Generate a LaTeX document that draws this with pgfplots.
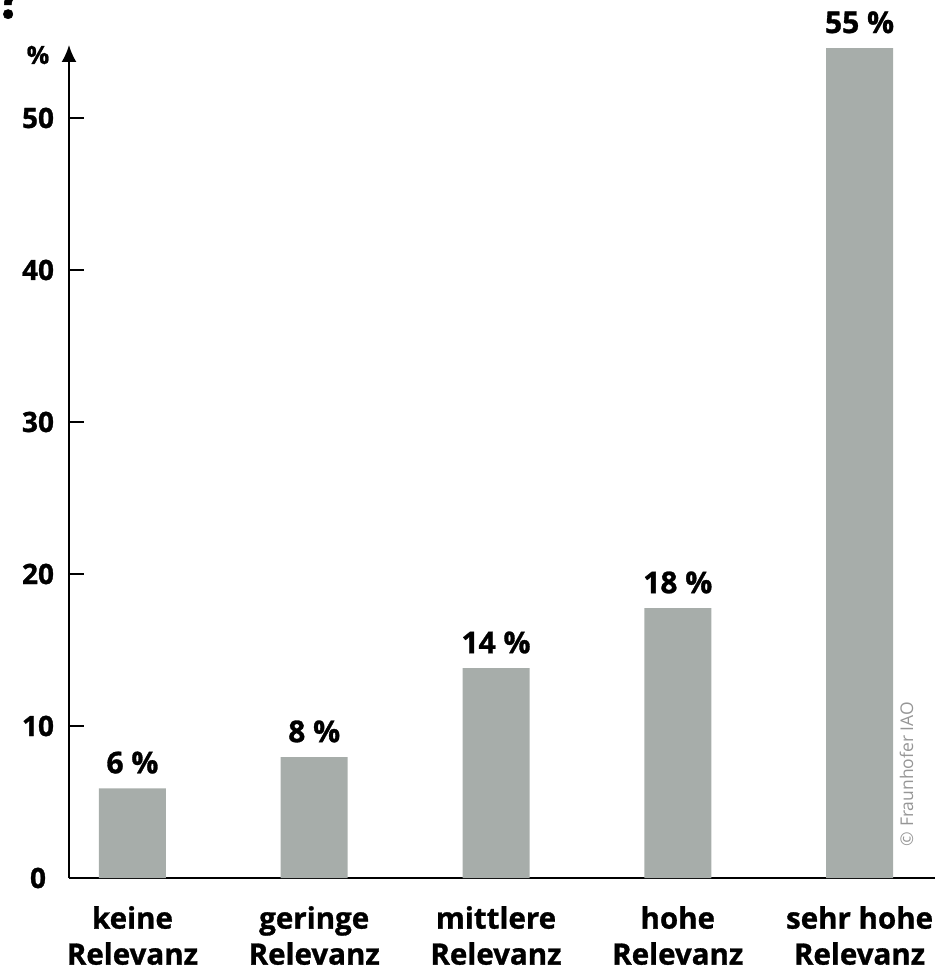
\documentclass[border=0pt]{standalone}
\usepackage{pgfplots}
\pgfplotsset{compat=1.18}
\usepackage{fontspec}
\setmainfont{Open Sans}[BoldFeatures={FakeBold=1}]
\usetikzlibrary{arrows.meta}
\definecolor{bargray}{RGB}{167,173,170}
\definecolor{copygray}{RGB}{150,150,150}
\begin{document}
\begin{tikzpicture}[x=1pt,y=1pt]
\begin{axis}[
  name=ax, at={(0,0)}, anchor=south west,
  scale only axis, width=866pt, height=833pt,
  xmin=-0.349, xmax=4.415, ymin=0, ymax=54.8,
  axis x line*=bottom, axis y line*=left,
  axis line style={line width=2pt},
  y axis line style={-{Latex[length=17pt,width=15pt]}},
  x axis line style={-},
  xtick={0,1,2,3,4},
  xticklabels={{keine\\Relevanz},{geringe\\Relevanz},{mittlere\\Relevanz},{hohe\\Relevanz},{sehr hohe\\Relevanz}},
  xtick style={draw=none},
  xticklabel style={align=center, anchor=north, inner sep=0pt, yshift=-28pt,
    font=\fontsize{29.5}{36}\selectfont\bfseries},
  ytick={0,10,20,30,40,50},
  ytick style={line width=2pt, black},
  tick align=inside, major tick length=15pt,
  /pgf/number format/assume math mode=true,
  yticklabel style={anchor=center, xshift=-31pt, font=\fontsize{28}{32}\selectfont\bfseries},
  every node near coord/.append style={anchor=base, yshift=15pt, inner sep=0pt,
    font=\fontsize{30}{36}\selectfont\bfseries},
  clip=false,
]
\addplot[ybar, bar width=67pt, fill=bargray, draw=none,
  point meta=explicit symbolic, nodes near coords]
  coordinates {(0,5.9) [6 \%] (1,7.95) [8 \%] (2,13.8) [14 \%] (3,17.75) [18 \%] (4,54.6) [55 \%]};
\node[font=\fontsize{25}{30}\selectfont\bfseries, xshift=-31pt, yshift=-10pt] at (rel axis cs:0,1) {\%};
\end{axis}
\node[rotate=90, anchor=base, text=copygray, font=\fontsize{17.5}{20}\selectfont] at (844,104) {© Fraunhofer IAO};
\node[anchor=base, font=\fontsize{55}{60}\selectfont\bfseries] at (-59,860) {?};
\pgfresetboundingbox
\path[use as bounding box] (-69,-92) rectangle (874,878);
\end{tikzpicture}
\end{document}
